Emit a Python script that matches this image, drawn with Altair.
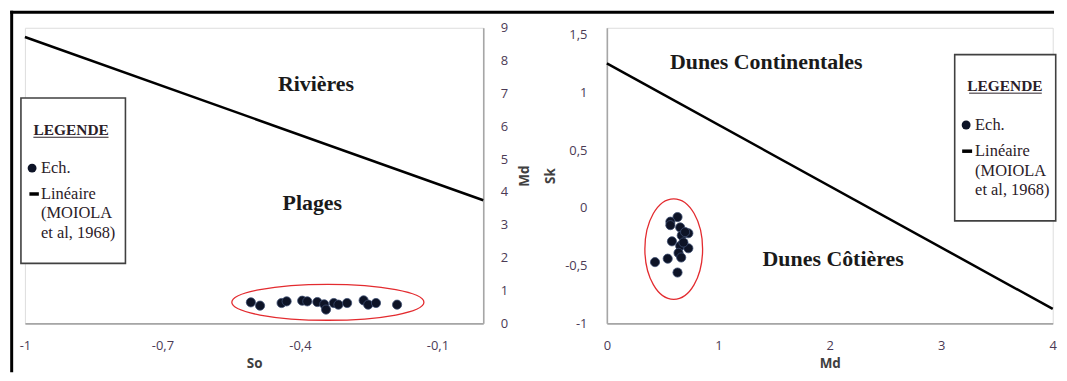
import altair as alt
import pandas as pd

# ---------------- data ----------------
# Left panel : So (x) vs Md (y)
so_left = [-0.507, -0.487, -0.440, -0.429, -0.395, -0.384, -0.362, -0.347,
           -0.343, -0.326, -0.316, -0.297, -0.261, -0.251, -0.234, -0.188]
md_left = [0.64, 0.54, 0.62, 0.67, 0.69, 0.67, 0.65, 0.58,
           0.42, 0.62, 0.57, 0.62, 0.70, 0.57, 0.62, 0.57]

# Right panel : Md (x) vs Sk (y)
md_right = [0.634, 0.570, 0.570, 0.658, 0.731, 0.672, 0.584, 0.658,
            0.731, 0.643, 0.667, 0.546, 0.432, 0.634, 0.702, 0.687]
sk_right = [-0.08, -0.12, -0.15, -0.17, -0.22, -0.24, -0.29, -0.33,
            -0.35, -0.39, -0.43, -0.44, -0.47, -0.56, -0.21, -0.30]

# MOIOLA et al. (1968) discriminant lines (end points)
line_left_so = [-1.0, 0.0]
line_left_md = [8.72, 3.75]
line_right_md = [0.0, 4.0]
line_right_sk = [1.25, -0.875]

# axis ticks
left_x_ticks = [-1, -0.7, -0.4, -0.1]
left_y_ticks = [0, 1, 2, 3, 4, 5, 6, 7, 8, 9]
right_x_ticks = [0, 1, 2, 3, 4]
right_y_ticks = [-1, -0.5, 0, 0.5, 1, 1.5]

# region labels
left_regions = ["Rivières", "Plages"]
left_regions_so = [-0.365, -0.373]
left_regions_md = [7.28, 3.65]
right_regions = ["Dunes Continentales", "Dunes Côtières"]
right_regions_md = [1.43, 2.03]
right_regions_sk = [1.265, -0.44]

# sample-group ellipse centres
ell_left_center = (-0.339, 0.64)
ell_right_center = (0.60, -0.357)

legend_title = "LEGENDE"
legend_items = ["Ech.", "Linéaire", "(MOIOLA", "et al, 1968)"]

# ---------------- styles ----------------
LABEL_EXPR = "replace(toString(datum.value), '.', ',')"
TICK_FONT = "Open Sans"
SERIF = "Liberation Serif"
AX_COL = "#a6a6a6"
LAB_COL = "#4b3a55"
TIT_COL = "#404040"
PT_FILL = "#0d1326"
PT_STROKE = "#3c4d70"
ELL_COL = "#e32b2f"

W_L, W_R, H = 460.5, 448, 297


def axis(values, orient, label_pad, title_pad, **kw):
    return alt.Axis(values=values, orient=orient, grid=False, ticks=False,
                    domainColor=AX_COL, domainWidth=1.6,
                    labelFont=TICK_FONT, labelFontSize=13, labelColor=LAB_COL,
                    labelPadding=label_pad, labelFlush=False, labelOverlap=False,
                    labelExpr=LABEL_EXPR,
                    titleFont=TICK_FONT, titleFontSize=13.5, titleFontWeight="bold",
                    titleColor=TIT_COL, titlePadding=title_pad, **kw)


one = pd.DataFrame({"k": [0]})


def vtext(txt, x, y, size=16.5, bold=False, align="left", color="#2b2028"):
    return alt.Chart(one).mark_text(
        font=SERIF, fontSize=size, fontWeight="bold" if bold else "normal",
        align=align, baseline="middle", color=color
    ).encode(x=alt.value(x), y=alt.value(y), text=alt.value(txt))


def legend_layers(x0, x1, y0, y1, cx_title, y_title, ul_x0, ul_x1, ul_y,
                  dot_x, dot_y, dash_x0, dash_x1, dash_y, text_x, line_ys):
    box = alt.Chart(one).mark_rect(fill="white", stroke="#404040", strokeWidth=1.6).encode(
        x=alt.value(x0), x2=alt.value(x1), y=alt.value(y0), y2=alt.value(y1))
    title = vtext(legend_title, cx_title, y_title, size=15.5, bold=True, align="center")
    underline = alt.Chart(one).mark_rule(color="#2b2028", strokeWidth=1).encode(
        x=alt.value(ul_x0), x2=alt.value(ul_x1), y=alt.value(ul_y))
    dot = alt.Chart(one).mark_point(filled=True, shape="circle", size=80, color=PT_FILL, opacity=1).encode(
        x=alt.value(dot_x), y=alt.value(dot_y))
    dash = alt.Chart(one).mark_rule(color="black", strokeWidth=3.5).encode(
        x=alt.value(dash_x0), x2=alt.value(dash_x1), y=alt.value(dash_y))
    texts = [vtext(t, text_x, yy) for t, yy in zip(legend_items, line_ys)]
    return [box, title, underline, dot, dash] + texts


# ---------------- left panel ----------------
df_l = pd.DataFrame({"So": so_left, "Md": md_left})
df_ll = pd.DataFrame({"So": line_left_so, "Md": line_left_md})
df_rl = pd.DataFrame({"So": left_regions_so, "Md": left_regions_md, "t": left_regions})
df_el = pd.DataFrame({"So": [ell_left_center[0]], "Md": [ell_left_center[1]]})

xl = alt.X("So:Q", scale=alt.Scale(domain=[-1, 0], nice=False, zero=False),
           axis=axis(left_x_ticks, "bottom", 16, 4, title="So"))
yl = alt.Y("Md:Q", scale=alt.Scale(domain=[0, 9], nice=False),
           axis=axis(left_y_ticks, "right", 17, 24, title="Md", titleAngle=270))

ell_l_path = "M -1 0 A 1 0.1865 0 1 1 1 0 A 1 0.1865 0 1 1 -1 0"

left_line = alt.Chart(df_ll).mark_line(color="black", strokeWidth=2.5).encode(x=xl, y=yl)
left_ell = alt.Chart(df_el).mark_point(shape=ell_l_path, size=193 ** 2, filled=False,
                                        color=ELL_COL, strokeWidth=1.3, opacity=1).encode(x=xl, y=yl)
left_pts = alt.Chart(df_l).mark_point(filled=True, shape="circle", size=85, fill=PT_FILL,
                                      stroke=PT_STROKE, strokeWidth=0.8, opacity=1).encode(x=xl, y=yl)
left_reg = alt.Chart(df_rl).mark_text(font=SERIF, fontSize=22, fontWeight="bold",
                                      color="#1a1a1a").encode(x=xl, y=yl, text="t:N")

frame_top = alt.Chart(one).mark_rule(color="black", strokeWidth=3).encode(
    x=alt.value(-14.8), x2=alt.value(1034), y=alt.value(-15.5))
frame_left = alt.Chart(one).mark_rule(color="black", strokeWidth=3).encode(
    x=alt.value(-13.3), y=alt.value(-17), y2=alt.value(346))

left_leg = legend_layers(-4, 101, 70.5, 236.7, 46.5, 103, 8.5, 84, 110,
                         7.2, 141, 4.5, 14, 167, 16.2, [141, 167, 186.5, 206])

left = alt.layer(left_line, left_ell, left_pts, left_reg, *left_leg, frame_top, frame_left).properties(
    width=W_L, height=H)

# ---------------- right panel ----------------
df_r = pd.DataFrame({"Md": md_right, "Sk": sk_right})
df_lr = pd.DataFrame({"Md": line_right_md, "Sk": line_right_sk})
df_rr = pd.DataFrame({"Md": right_regions_md, "Sk": right_regions_sk, "t": right_regions})
df_er = pd.DataFrame({"Md": [ell_right_center[0]], "Sk": [ell_right_center[1]]})

xr = alt.X("Md:Q", scale=alt.Scale(domain=[0, 4], nice=False),
           axis=axis(right_x_ticks, "bottom", 16, 4, title="Md"))
yr = alt.Y("Sk:Q", scale=alt.Scale(domain=[-1, 1.558], nice=False, zero=False),
           axis=axis(right_y_ticks, "left", 20, 7, title="Sk", titleAngle=270))

ell_r_path = "M -1 0 A 1 1.741 0 1 1 1 0 A 1 1.741 0 1 1 -1 0"

right_line = alt.Chart(df_lr).mark_line(color="black", strokeWidth=2.5).encode(x=xr, y=yr)
right_ell = alt.Chart(df_er).mark_point(shape=ell_r_path, size=58 ** 2, filled=False,
                                        color=ELL_COL, strokeWidth=1.3, opacity=1).encode(x=xr, y=yr)
right_pts = alt.Chart(df_r).mark_point(filled=True, shape="circle", size=85, fill=PT_FILL,
                                       stroke=PT_STROKE, strokeWidth=0.8, opacity=1).encode(x=xr, y=yr)
right_reg = alt.Chart(df_rr).mark_text(font=SERIF, fontSize=22, fontWeight="bold",
                                       color="#1a1a1a").encode(x=xr, y=yr, text="t:N")

right_leg = legend_layers(349.5, 451, 27, 194, 400, 58.3, 364, 437, 65.7,
                          361, 97.7, 357, 367, 124, 370, [97.7, 124, 143.5, 163])

right = alt.layer(right_line, right_ell, right_pts, right_reg, *right_leg).properties(
    width=W_R, height=H)

chart = alt.hconcat(left, right, spacing=123.7, bounds="flush").properties(
    padding={"left": 0, "top": 0, "right": 0, "bottom": 0}
).configure_view(stroke=None).configure(background="white")

chart.save("out.html", embed_options={"renderer": "svg", "actions": False})
